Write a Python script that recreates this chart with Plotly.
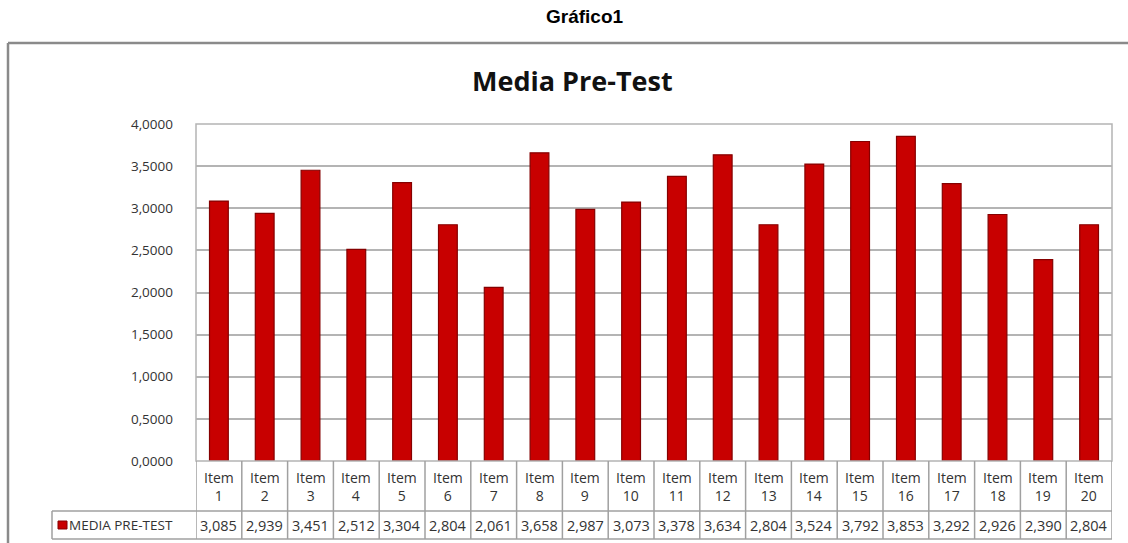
import plotly.graph_objects as go

categories = [f"Item {i}" for i in range(1, 21)]
header_labels = [f"Item<br>{i}" for i in range(1, 21)]
values = [3.085, 2.939, 3.451, 2.512, 3.304, 2.804, 2.061, 3.658, 2.987, 3.073,
          3.378, 3.634, 2.804, 3.524, 3.792, 3.853, 3.292, 2.926, 2.390, 2.804]
series_name = "MEDIA PRE-TEST"
y_ticks = [0, 0.5, 1.0, 1.5, 2.0, 2.5, 3.0, 3.5, 4.0]

W, H = 1128, 543
L, R, T, B = 196, 1112, 124, 461  # plot area in pixels
pw, ph = R - L, B - T

def px(x):
    return (x - L) / pw

def py(y):
    return (B - y) / ph

GRID = "#b4b4b4"
TXT = "#333333"
FONT = "Open Sans"
BAR = "#C80000"

fig = go.Figure()
fig.add_trace(go.Bar(
    x=categories, y=values, name=series_name,
    marker=dict(color=BAR, line=dict(color="#850000", width=1.2)),
    showlegend=False,
))

shapes = []
# outer frame of the sheet
shapes.append(dict(type="line", xref="paper", yref="paper", x0=px(8), x1=px(W + 5),
                   y0=py(43), y1=py(43), line=dict(color="#8a8a8a", width=2.5)))
shapes.append(dict(type="line", xref="paper", yref="paper", x0=px(8), x1=px(8),
                   y0=py(43), y1=py(H + 5), line=dict(color="#8a8a8a", width=2.5)))
# plot area border
shapes.append(dict(type="rect", xref="paper", yref="paper", x0=0, x1=1, y0=0, y1=1,
                   line=dict(color=GRID, width=1.5)))
# table lines
row1, row2 = py(511), py(539)
for i in range(len(categories) + 1):
    shapes.append(dict(type="line", xref="x", yref="paper", x0=i - 0.5, x1=i - 0.5,
                       y0=0, y1=row2, line=dict(color="#a0a0a0", width=1.5)))
shapes.append(dict(type="line", xref="paper", yref="paper", x0=px(52), x1=1,
                   y0=row1, y1=row1, line=dict(color="#a0a0a0", width=1.5)))
shapes.append(dict(type="line", xref="paper", yref="paper", x0=px(52), x1=1,
                   y0=row2, y1=row2, line=dict(color="#a0a0a0", width=1.5)))
shapes.append(dict(type="line", xref="paper", yref="paper", x0=px(52), x1=px(52),
                   y0=row1, y1=row2, line=dict(color="#a0a0a0", width=1.5)))
# legend key square
shapes.append(dict(type="rect", xref="paper", yref="paper", x0=px(58), x1=px(67),
                   y0=py(529), y1=py(521), fillcolor=BAR,
                   line=dict(color="#850000", width=1)))

annotations = []
for c, h, v in zip(categories, header_labels, values):
    annotations.append(dict(x=c, xref="x", y=py(486), yref="paper", text=h,
                            showarrow=False, font=dict(family=FONT, size=14, color=TXT),
                            xanchor="center", yanchor="middle"))
    annotations.append(dict(x=c, xref="x", y=py(525), yref="paper",
                            text=f"{v:.3f}".replace(".", ","),
                            showarrow=False, font=dict(family=FONT, size=14.5, color=TXT),
                            xanchor="center", yanchor="middle"))
annotations.append(dict(x=px(67), xref="paper", y=py(525), yref="paper",
                        text=series_name,
                        showarrow=False, font=dict(family=FONT, size=13.5, color=TXT),
                        xanchor="left", yanchor="middle"))
annotations.append(dict(x=px(585), xref="paper", y=py(16), yref="paper",
                        text="<b>Gráfico1</b>", showarrow=False,
                        font=dict(family="Liberation Sans", size=19, color="#000"),
                        xanchor="center", yanchor="middle"))
annotations.append(dict(x=px(572), xref="paper", y=py(81), yref="paper",
                        text="<b>Media Pre-Test</b>", showarrow=False,
                        font=dict(family=FONT, size=27, color="#111"),
                        xanchor="center", yanchor="middle"))

fig.update_layout(
    width=W, height=H,
    margin=dict(l=L, r=W - R, t=T, b=H - B, pad=0),
    paper_bgcolor="white", plot_bgcolor="white",
    separators=",.",
    bargap=0.59,
    shapes=shapes, annotations=annotations,
    xaxis=dict(showticklabels=False, showgrid=False, zeroline=False, showline=False,
               range=[-0.5, len(categories) - 0.5], fixedrange=True),
    yaxis=dict(range=[0, 4.0], tickvals=y_ticks, tickformat=".4f",
               showgrid=True, gridcolor=GRID, gridwidth=1.5, zeroline=False,
               showline=False, ticks="", ticklabelstandoff=22,
               tickfont=dict(family=FONT, size=13.5, color=TXT), fixedrange=True),
)

fig.write_html("out.html", config={"displayModeBar": False},
               post_script="document.body.style.margin='0';document.body.style.overflow='hidden';")
